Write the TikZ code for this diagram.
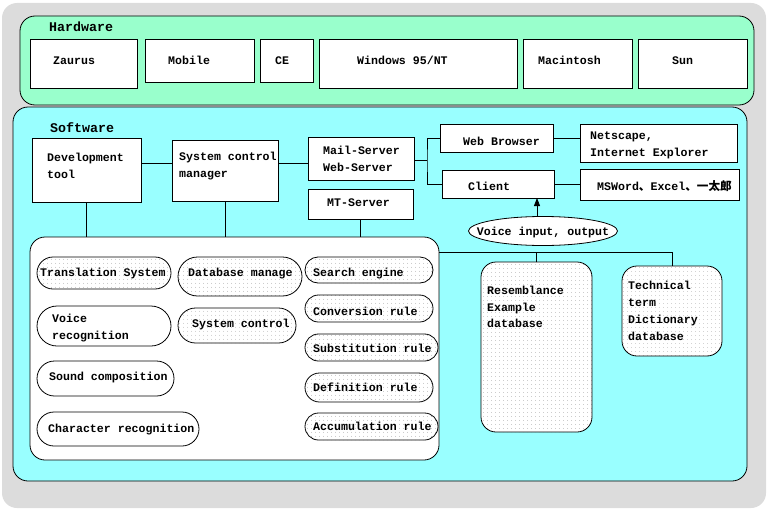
\documentclass[tikz,border=0pt]{standalone}
\usepackage{fontspec}
\setmainfont{Liberation Mono}
\newfontfamily\cjk{Noto Sans CJK JP}
\usetikzlibrary{shapes.geometric,shapes.misc,arrows.meta,patterns.meta}
\definecolor{bgg}{RGB}{220,220,220}
\definecolor{hwg}{RGB}{153,255,204}
\definecolor{swc}{RGB}{153,255,255}
\newcommand\mainf{\fontsize{11.6}{17}\selectfont\bfseries}
\newcommand\bx[6]{\node[#1, minimum width={#4-#2}, minimum height={#5-#3}] (#6) at ({(#2+#4)/2},{(#3+#5)/2}) {};}
\tikzset{
  ln/.style={line width=0.8pt},
  base/.style={draw, line width=0.8pt, inner sep=0pt, outer sep=0pt, rectangle},
  sq/.style={base, fill=white},
  rbox/.style={base, rounded corners=15pt},
  dotfill/.style={preaction={fill=white}, pattern={Dots[distance=4pt,radius=0.45pt]}, pattern color=black!40},
  pillb/.style={draw, line width=0.8pt, rounded rectangle, inner sep=0pt, outer sep=0pt},
  pill/.style={pillb, fill=white},
  dpill/.style={pillb, dotfill},
  txt/.style={inner sep=0pt, anchor=base west, align=left, font=\mainf},
  ttl/.style={inner sep=0pt, anchor=base west, font=\fontsize{13.3}{16}\selectfont\bfseries},
}
\begin{document}
\begin{tikzpicture}[x=1pt,y=-1pt]
\useasboundingbox (0,0) rectangle (778,511);
% containers
\bx{fill=bgg, rounded corners=15pt, inner sep=0pt}{2}{3}{766}{508}{bg}
\bx{rbox, fill=hwg}{20}{16}{754}{105}{hw}
\bx{rbox, fill=swc}{13}{107}{747}{481}{sw}
\node[ttl] (thw) at (49,32) {Hardware};
\node[ttl] (tsw) at (50,132) {Software};
% hardware boxes
\bx{sq}{30}{39}{137}{88}{zaurus}
\bx{sq}{145}{39}{254}{82}{mobile}
\bx{sq}{260}{39}{313}{82}{ce}
\bx{sq}{319}{39}{517}{88}{win}
\bx{sq}{523}{39}{632}{88}{mac}
\bx{sq}{638}{39}{747}{88}{sun}
\node[txt] (tzaurus) at (53,64.5) {Zaurus};
\node[txt] (tmobile) at (168,64.5) {Mobile};
\node[txt] (tce) at (275,64.5) {CE};
\node[txt] (twin) at (357,64.5) {Windows 95/NT};
\node[txt] (tmac) at (538,64.5) {Macintosh};
\node[txt] (tsun) at (672,64.5) {Sun};
% software boxes
\bx{sq}{32}{138}{141}{202}{dev}
\bx{sq}{172}{140}{278}{201}{sys}
\bx{sq}{308}{137}{414}{180}{mail}
\bx{sq}{308}{189}{413}{219}{mt}
\bx{sq}{440}{124}{553}{152}{web}
\bx{sq}{442}{170}{554}{198}{client}
\bx{sq}{580}{124}{737}{162}{ns}
\bx{sq}{580}{169}{739}{200}{ms}
\node[txt] (tdev) at (47,178.5) {Development\\tool};
\node[txt] (tsys) at (179,177.5) {System control\\manager};
\node[txt] (tmail) at (323,171.5) {Mail-Server\\Web-Server};
\node[txt] (tmt) at (327,206.5) {MT-Server};
\node[txt] (tweb) at (463,145.5) {Web Browser};
\node[txt] (tclient) at (468,190.5) {Client};
\node[txt] (tns) at (590,156.5) {Netscape,\\Internet Explorer};
\node[txt] (tms) at (597,190.5) {MSWord{\cjk 、}Excel{\cjk 、一太郎}};
% voice ellipse
\node[draw, ln, ellipse, fill=white, inner sep=0pt, minimum width=149pt, minimum height=29pt] (vio) at (543,231) {};
\node[txt, anchor=base] (tvio) at (543,235) {Voice input, output};
% big white box and databases
\bx{rbox, fill=white}{30}{237}{439}{460}{wb}
\bx{rbox, dotfill}{481}{262}{592}{432}{res}
\bx{rbox, dotfill}{622}{266}{722}{356}{tech}
\node[txt, font=\fontsize{11.6}{16.5}\selectfont\bfseries] (tres) at (487,327.5) {Resemblance\\Example\\database};
\node[txt] (ttech) at (628,340.5) {Technical\\term\\Dictionary\\database};
% pills
\bx{dpill}{37}{257}{171}{289}{trans}
\bx{dpill}{178}{257}{302}{296}{dbm}
\bx{dpill}{305}{257}{433}{283}{search}
\bx{pill}{37}{306}{171}{346}{voice}
\bx{dpill}{178}{308}{296}{343}{sysc}
\bx{dpill}{305}{295}{433}{322}{conv}
\bx{dpill}{305}{334}{438}{361}{subs}
\bx{pill}{37}{361}{174}{396}{sound}
\bx{dpill}{305}{373}{433}{402}{defn}
\bx{pill}{37}{412}{199}{446}{char}
\bx{dpill}{305}{413}{438}{440}{accum}
\node[txt] (ttrans) at (40,276.5) {Translation System};
\node[txt] (tdbm) at (188,276.5) {Database manage};
\node[txt] (tsearch) at (313,276.5) {Search engine};
\node[txt] (tvoice) at (52,339.5) {Voice\\recognition};
\node[txt] (tsysc) at (192,327.5) {System control};
\node[txt] (tconv) at (313,315.5) {Conversion rule};
\node[txt] (tsubs) at (313,352.5) {Substitution rule};
\node[txt] (tsound) at (49,380.5) {Sound composition};
\node[txt] (tdefn) at (313,391.5) {Definition rule};
\node[txt] (tchar) at (48,432.5) {Character recognition};
\node[txt] (taccum) at (313,430.5) {Accumulation rule};
% connectors
\draw[ln] (dev.east |- 0,163) -- (sys.west |- 0,163);
\draw[ln] (sys.east |- 0,163) -- (mail.west |- 0,163);
\coordinate (j) at (427,160);
\draw[ln] (mail.east |- j) -- (j);
\draw[ln] (web.west) -| (j) |- (client.west);
\draw[ln] (web.east) -- (web.east -| ns.west);
\draw[ln] (client.east) -- (client.east -| ms.west);
\draw[ln] (dev.south) -- (dev.south |- wb.north);
\draw[ln] (sys.south) -- (sys.south |- wb.north);
\draw[ln] (mt.south) -- (mt.south |- wb.north);
\draw[ln] (wb.east |- 0,252) -| (tech.north);
\draw[ln] (res.north) -- (res.north |- 0,252);
\draw[ln, -{Triangle[width=6pt,length=8pt]}] (vio.north -| 537,0) -- (client.south -| 537,0);
\end{tikzpicture}
\end{document}
